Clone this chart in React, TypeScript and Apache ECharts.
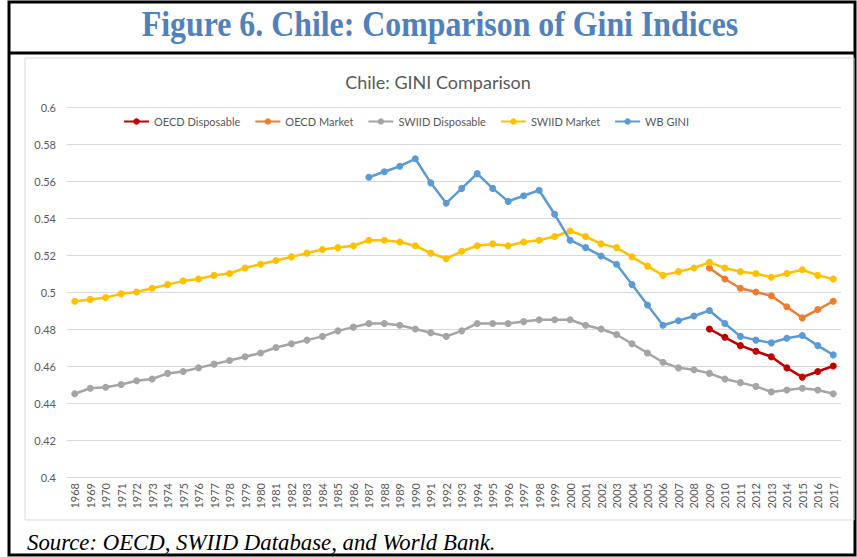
import React, { useEffect, useRef } from "react";
import * as echarts from "echarts";

const years = [
  "1968","1969","1970","1971","1972","1973","1974","1975","1976","1977",
  "1978","1979","1980","1981","1982","1983","1984","1985","1986","1987",
  "1988","1989","1990","1991","1992","1993","1994","1995","1996","1997",
  "1998","1999","2000","2001","2002","2003","2004","2005","2006","2007",
  "2008","2009","2010","2011","2012","2013","2014","2015","2016","2017",
];

const swiidMarket = [
  0.495, 0.496, 0.497, 0.499, 0.5, 0.502, 0.504, 0.506, 0.507, 0.509, 0.51, 0.513,
  0.515, 0.517, 0.519, 0.521, 0.523, 0.524, 0.525, 0.528, 0.528, 0.527,
  0.525, 0.521, 0.518, 0.522, 0.525, 0.526, 0.525, 0.527, 0.528, 0.53,
  0.533, 0.53, 0.526, 0.524, 0.519, 0.514, 0.509, 0.511, 0.513, 0.516,
  0.513, 0.511, 0.51, 0.508, 0.51, 0.512, 0.509, 0.507,
];

const swiidDisposable = [
  0.445, 0.448, 0.4485, 0.45, 0.452, 0.453, 0.456, 0.457, 0.459, 0.461, 0.463, 0.465,
  0.467, 0.47, 0.472, 0.474, 0.476, 0.479, 0.481, 0.483, 0.483, 0.482,
  0.48, 0.478, 0.476, 0.479, 0.483, 0.483, 0.483, 0.484, 0.485, 0.485,
  0.485, 0.482, 0.48, 0.477, 0.472, 0.467, 0.462, 0.459, 0.458, 0.456,
  0.453, 0.451, 0.449, 0.446, 0.447, 0.448, 0.447, 0.445,
];

const wbYears = [
  "1987","1988","1989","1990","1991","1992","1993","1994","1995","1996",
  "1997","1998","1999","2000","2001","2002","2003","2004","2005","2006",
  "2007","2008","2009","2010","2011","2012","2013","2014","2015","2016","2017",
];
const wbGini = [
  0.562, 0.565, 0.568, 0.572, 0.559, 0.548, 0.556, 0.564, 0.556, 0.549,
  0.552, 0.555, 0.542, 0.528, 0.524, 0.5195, 0.515, 0.504, 0.493, 0.482,
  0.4845, 0.487, 0.49, 0.483, 0.476, 0.474, 0.4725, 0.475, 0.4765, 0.471, 0.466,
];

const oecdYears = ["2009","2010","2011","2012","2013","2014","2015","2016","2017"];
const oecdMarket = [0.513, 0.507, 0.502, 0.5, 0.498, 0.492, 0.486, 0.4905, 0.495];
const oecdDisposable = [0.48, 0.4755, 0.471, 0.468, 0.465, 0.459, 0.454, 0.457, 0.46];

const FONT = "Lato";
const GREY = "#595959";

function lineSeries(name: string, color: string, data: any[]) {
  return {
    name,
    type: "line",
    data,
    symbol: "circle",
    symbolSize: 7,
    showSymbol: true,
    lineStyle: { color, width: 2.5 },
    itemStyle: { color },
    connectNulls: false,
  };
}

export default function App() {
  const ref = useRef<HTMLDivElement>(null);
  useEffect(() => {
    if (!ref.current) return;
    const chart = echarts.init(ref.current, undefined, { renderer: "svg" });
    const pair = (ys: string[], vs: number[]) => ys.map((y, i) => [y, vs[i]]);
    chart.setOption({
      animation: false,
      backgroundColor: "#ffffff",
      textStyle: { fontFamily: FONT },
      graphic: [
        {
          type: "rect",
          shape: { x: 9, y: 2, width: 846, height: 553 },
          style: { fill: "none", stroke: "#000", lineWidth: 3 },
          z: 0,
        },
        {
          type: "line",
          shape: { x1: 9, y1: 53, x2: 855, y2: 53 },
          style: { stroke: "#000", lineWidth: 3 },
        },
        {
          type: "rect",
          shape: { x: 25, y: 58, width: 829, height: 462 },
          style: { fill: "none", stroke: "#d9d9d9", lineWidth: 1 },
        },
        {
          type: "text",
          x: 440,
          y: 24,
          scaleX: 0.91,
          style: {
            text: "Figure 6. Chile: Comparison of Gini Indices",
            font: 'bold 35px "Liberation Serif"',
            fill: "#4F81BD",
            textAlign: "center",
            textVerticalAlign: "middle",
          },
        },
        {
          type: "text",
          x: 438,
          y: 82,
          style: {
            text: "Chile: GINI Comparison",
            font: `18px ${FONT}`,
            fill: GREY,
            textAlign: "center",
            textVerticalAlign: "middle",
          },
        },
        {
          type: "text",
          x: 27,
          y: 542,
          scaleX: 0.95,
          style: {
            text: "Source: OECD, SWIID Database, and World Bank.",
            font: 'italic 24px "Liberation Serif"',
            fill: "#000",
            textAlign: "left",
            textVerticalAlign: "middle",
          },
        },
      ],
      legend: {
        left: 118,
        top: 111,
        itemWidth: 25,
        itemHeight: 8,
        itemGap: 14,
        textStyle: { color: GREY, fontSize: 11, fontFamily: FONT },
        data: ["OECD Disposable", "OECD Market", "SWIID Disposable", "SWIID Market", "WB GINI"],
      },
      grid: { left: 67, top: 107, width: 774, height: 370, containLabel: false },
      xAxis: {
        type: "category",
        data: years,
        boundaryGap: true,
        axisLine: { show: false },
        axisTick: { show: false },
        axisLabel: { rotate: 90, color: GREY, fontSize: 11, fontFamily: FONT, margin: 6, interval: 0 },
        splitLine: { show: false },
      },
      yAxis: {
        type: "value",
        min: 0.4,
        max: 0.6,
        interval: 0.02,
        axisLine: { show: false },
        axisTick: { show: false },
        axisLabel: { color: GREY, fontSize: 11, fontFamily: FONT, margin: 11 },
        splitLine: { lineStyle: { color: "#d9d9d9", width: 1 } },
      },
      series: [
        lineSeries("OECD Disposable", "#C00000", pair(oecdYears, oecdDisposable)),
        lineSeries("OECD Market", "#ED7D31", pair(oecdYears, oecdMarket)),
        lineSeries("SWIID Disposable", "#A5A5A5", pair(years, swiidDisposable)),
        lineSeries("SWIID Market", "#FFC000", pair(years, swiidMarket)),
        lineSeries("WB GINI", "#5B9BD5", pair(wbYears, wbGini)),
      ],
    });
    return () => chart.dispose();
  }, []);
  return (
    <div
      ref={ref}
      style={{ position: "absolute", left: 0, top: 0, width: 857, height: 557, background: "#fff" }}
    />
  );
}
